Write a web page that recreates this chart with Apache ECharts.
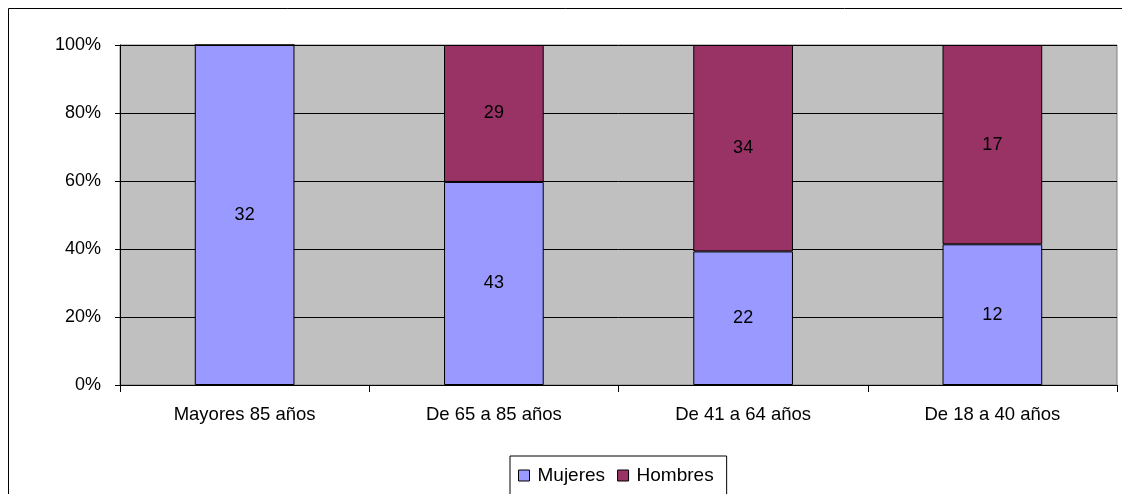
<!DOCTYPE html>
<html><head><meta charset="utf-8">
<script src="https://cdn.jsdelivr.net/npm/echarts@6/dist/echarts.min.js"></script>
<style>html,body{margin:0;padding:0;background:#fff}#c{width:1122px;height:494px}</style>
</head><body><div id="c"></div>
<script>
const categories = ['Mayores 85 años', 'De 65 a 85 años', 'De 41 a 64 años', 'De 18 a 40 años'];
const mujeres = [32, 43, 22, 12];
const hombres = [0, 29, 34, 17];
const yTicks = ['0%', '20%', '40%', '60%', '80%', '100%'];

const totals = categories.map((_, i) => mujeres[i] + hombres[i]);
const pct = (arr) => arr.map((v, i) => ({ value: v / totals[i] * 100, raw: v }));

const chart = echarts.init(document.getElementById('c'));
const font = 'Liberation Sans, Arial, sans-serif';
chart.setOption({
  animation: false,
  textStyle: { fontFamily: font },
  graphic: [{
    type: 'rect', shape: { x: 8.5, y: 8.5, width: 1200, height: 600 },
    style: { fill: 'none', stroke: '#000', lineWidth: 1 }, silent: true, z: -10
  }],
  grid: { left: 120, right: 5, top: 45, bottom: 109, show: true, backgroundColor: '#C0C0C0', borderColor: '#808080', borderWidth: 1 },
  xAxis: {
    type: 'category', data: categories,
    axisLine: { lineStyle: { color: '#000' } },
    axisTick: { show: true, length: 7, lineStyle: { color: '#000' } },
    axisLabel: { color: '#000', fontSize: 18.5, margin: 20, fontFamily: font }
  },
  yAxis: {
    type: 'value', min: 0, max: 100, interval: 20,
    axisLine: { show: true, lineStyle: { color: '#000' } },
    axisTick: { show: true, length: 5, lineStyle: { color: '#000' } },
    splitLine: { lineStyle: { color: '#000', width: 1 } },
    axisLabel: { color: '#000', fontSize: 18, margin: 19, fontFamily: font,
      formatter: (v) => yTicks[Math.round(v / 20)] }
  },
  legend: {
    left: 510, top: 456, padding: [10, 13, 20, 8], itemGap: 12,
    borderColor: '#000', borderWidth: 1,
    icon: 'rect', itemWidth: 11, itemHeight: 11,
    itemStyle: { borderColor: '#000', borderWidth: 1 },
    textStyle: { color: '#000', fontSize: 19, fontFamily: font, padding: [0, 0, 0, 3] },
    data: ['Mujeres', 'Hombres']
  },
  series: [
    { name: 'Mujeres', type: 'bar', stack: 's', barWidth: '40%', data: pct(mujeres),
      itemStyle: { color: '#9999FF', borderColor: '#000', borderWidth: 1 },
      label: { show: true, position: 'inside', color: '#000', fontSize: 18, fontFamily: font,
        formatter: (p) => p.data.raw ? String(p.data.raw) : '' } },
    { name: 'Hombres', type: 'bar', stack: 's', barWidth: '40%', data: pct(hombres),
      itemStyle: { color: '#993366', borderColor: '#000', borderWidth: 1 },
      label: { show: true, position: 'inside', color: '#000', fontSize: 18, fontFamily: font,
        formatter: (p) => p.data.raw ? String(p.data.raw) : '' } }
  ]
});
</script></body></html>
